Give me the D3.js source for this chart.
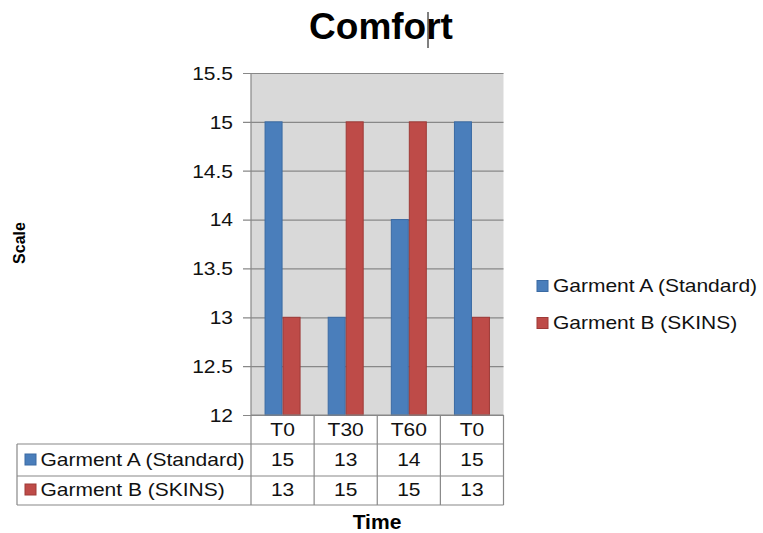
<!DOCTYPE html>
<html>
<head>
<meta charset="utf-8">
<script src="https://cdn.jsdelivr.net/npm/d3@7/dist/d3.min.js"></script>
<style>
  html, body { margin: 0; padding: 0; background: #fff; }
  svg { display: block; font-family: "Liberation Sans", Arial, sans-serif; }
</style>
</head>
<body>
<svg id="chart" width="763" height="533"></svg>
<script>
// Chart data
const categories = ["T0", "T30", "T60", "T0 "];
const seriesNames = ["Garment A (Standard)", "Garment B (SKINS)"];
const garmentA = [15, 13, 14, 15];
const garmentB = [13, 15, 15, 13];
const yTicks = [12, 12.5, 13, 13.5, 14, 14.5, 15, 15.5];
const seriesValues = [garmentA, garmentB];
const fills = ["#4a7ebb", "#be4b48"];
const strokes = ["#3a6aa3", "#9e3a37"];

const svg = d3.select("#chart");
const plotLeft = 251, plotRight = 503.5, plotTop = 73, plotBottom = 415;
const FS = 17.5;    // body text size
const SX = 1.2;     // horizontal widening of body text

// Places a horizontally widened text label at (x, y)
function label(parent, x, y, str, anchor, opts = {}) {
  return parent.append("text")
    .attr("transform", `translate(${x},${y}) scale(${opts.sx || SX},1)`)
    .attr("text-anchor", anchor || "start")
    .attr("font-size", opts.size || FS)
    .attr("font-weight", opts.weight || "normal")
    .attr("fill", opts.fill || "#111")
    .text(str);
}

const x = d3.scaleBand().domain(d3.range(categories.length)).range([plotLeft, plotRight]).padding(0);
const y = d3.scaleLinear().domain([12, 15.5]).range([plotBottom, plotTop]);
const barW = 18;
const xSub = d3.scaleBand().domain(d3.range(seriesNames.length))
  .range([x.bandwidth() / 2 - barW, x.bandwidth() / 2 + barW]).padding(0);

// Title
svg.append("text").attr("x", 381).attr("y", 39).attr("text-anchor", "middle")
  .attr("font-size", 37).attr("font-weight", "bold").attr("fill", "#000").text("Comfort");
// text caret inside the title
svg.append("line").attr("x1", 428).attr("x2", 428).attr("y1", 12).attr("y2", 48)
  .attr("stroke", "#000").attr("stroke-width", 1);

// Plot background
svg.append("rect").attr("x", plotLeft).attr("y", plotTop)
  .attr("width", plotRight - plotLeft).attr("height", plotBottom - plotTop)
  .attr("fill", "#d9d9d9");

// Y axis with gridlines
const yAxis = d3.axisLeft(y).tickValues(yTicks).tickSize(-(plotRight - plotLeft)).tickPadding(0)
  .tickFormat(d3.format(""));
const gy = svg.append("g").attr("transform", `translate(${plotLeft},0)`).call(yAxis);
gy.select(".domain").remove();
gy.selectAll(".tick line").attr("x1", -8).attr("stroke", "#888").attr("stroke-width", 1.2);
gy.selectAll(".tick text")
  .attr("transform", `scale(${SX},1)`)
  .attr("x", -18 / SX).attr("font-size", FS).attr("fill", "#111")
  .attr("font-family", "Liberation Sans, Arial, sans-serif").attr("dy", "0.36em");
svg.append("line").attr("x1", plotLeft).attr("x2", plotLeft).attr("y1", plotTop).attr("y2", plotBottom)
  .attr("stroke", "#888").attr("stroke-width", 1.2);

// Bars
const groups = svg.append("g").selectAll("g").data(categories).join("g")
  .attr("transform", (d, i) => `translate(${x(i)},0)`);
groups.selectAll("rect").data((d, i) => seriesValues.map((s, k) => ({ k, v: s[i] }))).join("rect")
  .attr("x", d => xSub(d.k) + 0.5).attr("width", xSub.bandwidth() - 1)
  .attr("y", d => y(d.v)).attr("height", d => y(12) - y(d.v))
  .attr("fill", d => fills[d.k]).attr("stroke", d => strokes[d.k]).attr("stroke-width", 1);

// Data table below the plot
const rowTop = [415, 444, 476];
const rowBot = 505;
const tableLeft = 17;
const grid = svg.append("g").attr("stroke", "#888").attr("stroke-width", 1.2).attr("fill", "none");
// header row frame (category labels only)
grid.append("line").attr("x1", plotLeft).attr("x2", plotRight).attr("y1", rowTop[0]).attr("y2", rowTop[0]);
[rowTop[1], rowTop[2], rowBot].forEach(yy =>
  grid.append("line").attr("x1", tableLeft).attr("x2", plotRight).attr("y1", yy).attr("y2", yy));
grid.append("line").attr("x1", tableLeft).attr("x2", tableLeft).attr("y1", rowTop[1]).attr("y2", rowBot);
d3.range(categories.length + 1).forEach(i => {
  const xx = i < categories.length ? x(i) : plotRight;
  grid.append("line").attr("x1", xx).attr("x2", xx).attr("y1", rowTop[0]).attr("y2", rowBot);
});

// Header labels
const head = svg.append("g");
categories.forEach((c, i) => label(head, x(i) + x.bandwidth() / 2, 436, c.trim(), "middle"));

// Value rows
const rowBase = [466, 496];
seriesValues.forEach((vals, k) => {
  const g = svg.append("g");
  g.append("rect").attr("x", 25).attr("y", rowBase[k] - 12).attr("width", 11).attr("height", 11)
    .attr("fill", fills[k]).attr("stroke", strokes[k]).attr("stroke-width", 1);
  label(g, 40.5, rowBase[k], seriesNames[k], "start");
  vals.forEach((v, i) => label(g, x(i) + x.bandwidth() / 2, rowBase[k], v, "middle"));
});

// Axis titles
svg.append("text").attr("transform", "translate(25,243) rotate(-90)").attr("text-anchor", "middle")
  .attr("font-size", 16).attr("font-weight", "bold").attr("fill", "#000").text("Scale");
label(svg, 377, 529, "Time", "middle", { size: 19.5, weight: "bold", sx: 1.08, fill: "#000" });

// Legend
const legY = [292, 329];
seriesNames.forEach((name, k) => {
  svg.append("rect").attr("x", 537).attr("y", legY[k] - 11.5).attr("width", 11).attr("height", 11)
    .attr("fill", fills[k]).attr("stroke", strokes[k]).attr("stroke-width", 1);
  label(svg, 553, legY[k], name, "start");
});
</script>
</body>
</html>
